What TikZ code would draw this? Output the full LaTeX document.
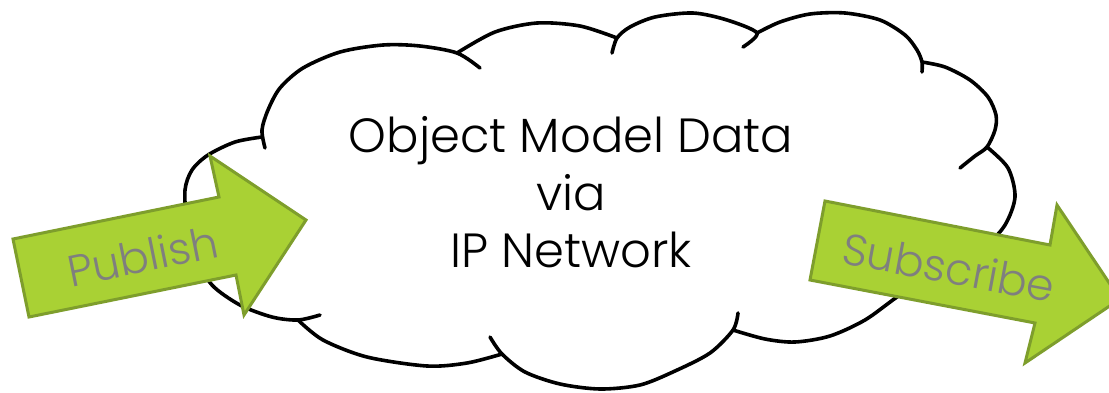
\documentclass[tikz,border=0pt]{standalone}
\usepackage{fontspec}
\setmainfont{Poppins}[UprightFont=* Light]
\definecolor{arrowgreen}{HTML}{A9D134}
\definecolor{arrowedge}{HTML}{7E9E2C}
\definecolor{labelgrey}{HTML}{7F7F7F}
\tikzset{
  cloudline/.style={line width=3.6pt, draw=black, line cap=round, line join=round},
  greenarrow/.style={fill=arrowgreen, draw=arrowedge, line width=3pt, line join=miter},
  maintext/.style={font=\fontsize{48}{57}\selectfont, text=black, inner sep=0pt, anchor=base},
  arrowtext/.style={font=\fontsize{44}{50}\selectfont, text=labelgrey, inner sep=0pt, anchor=base},
}
\begin{document}
\begin{tikzpicture}[x=1pt,y=-1pt]
\useasboundingbox (0,0) rectangle (1109,392);
\fill[white] (0,0) rectangle (1109,392);
\clip (0,0) rectangle (1109,392);
% cloud lobes
\draw[cloudline] plot[smooth] coordinates {(262,137) (235,142) (208,155) (192,170) (185,190) (187,222) (196,257) (212,285) (240,305) (272,317) (298,320) (320,315)};
\draw[cloudline] plot[smooth] coordinates {(298,320) (323,340) (367,357) (427,366) (467,363) (502,354)};
\draw[cloudline] plot[smooth] coordinates {(490,337) (502,354) (525,372) (560,384) (600,389) (640,385) (675,371) (710,353) (733,330) (738,313)};
\draw[cloudline] plot[smooth] coordinates {(733,330) (765,339) (795,342) (830,336) (865,320) (897,297) (935,272) (985,245) (1005,225) (1015,197) (1008,168) (987,147)};
\draw[cloudline] plot[smooth] coordinates {(960,168) (975,156) (987,147) (995,130) (996,115) (988,97) (970,80) (945,67) (922,62)};
\draw[cloudline] plot[smooth] coordinates {(922,72) (922,62) (917,50) (905,35) (880,20) (845,13) (810,14) (780,22) (757,33)};
\draw[cloudline] plot[smooth] coordinates {(743,47) (757,33) (727,20) (693,13) (655,17) (630,27) (617,38) (612,53)};
\draw[cloudline] plot[smooth] coordinates {(617,38) (580,26) (537,23) (495,32) (457,53)};
\draw[cloudline] plot[smooth] coordinates {(480,68) (457,53) (420,46) (383,45) (340,52) (303,68) (280,88) (268,110) (262,130) (265,148)};
% main text
\node[maintext] (line1) at (571,152) {Object Model Data};
\node[maintext] (line2) at (571,210) {via};
\node[maintext] (line3) at (571,267) {IP Network};
% arrows
\draw[greenarrow] (13,239) -- (219,197) -- (210,156) -- (306,220) -- (244,315) -- (236,275) -- (29,317) -- cycle;
\draw[greenarrow] (825,201) -- (1050,245) -- (1057,205) -- (1120,299) -- (1025,363) -- (1035,323) -- (810,280) -- cycle;
\node[arrowtext, rotate=11.5] (pub) at (146,272) {Publish};
\node[arrowtext, rotate=-10.5] (sub) at (946,283) {Subscribe};
\end{tikzpicture}
\end{document}
